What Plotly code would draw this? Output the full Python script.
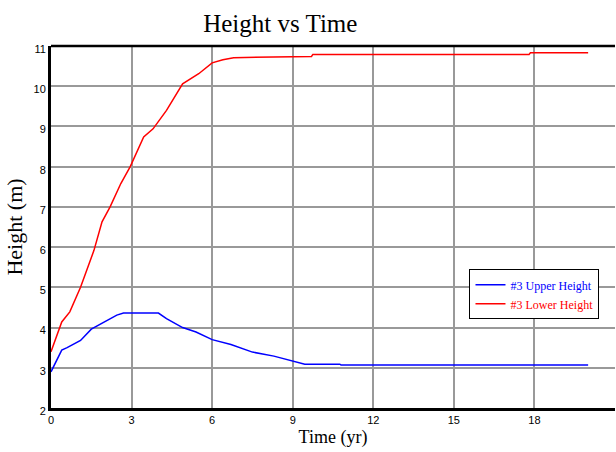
import plotly.graph_objects as go

# Time samples (years) and heights (m) for the two series
time_upper = [0, 0.4, 0.6, 0.85, 1.1, 1.5, 2.0, 2.45, 2.7, 4.0, 4.3, 4.9, 5.4, 6.0,
              6.7, 7.5, 8.3, 9.0, 9.45, 10.75, 10.8, 20]
height_upper = [2.9, 3.44, 3.5, 3.58, 3.68, 3.96, 4.14, 4.31, 4.36, 4.36, 4.22, 4.0,
                3.89, 3.70, 3.58, 3.39, 3.29, 3.16, 3.09, 3.09, 3.07, 3.07]

time_lower = [0, 0.4, 0.7, 1.1, 1.6, 1.9, 2.2, 2.6, 2.95, 3.45, 3.8, 4.3, 4.9, 5.5,
              6.0, 6.4, 6.8, 8.3, 9.0, 9.7, 9.75, 17.8, 17.85, 20]
height_lower = [3.4, 4.14, 4.39, 5.0, 5.92, 6.63, 7.0, 7.58, 8.0, 8.74, 8.94, 9.4,
                10.06, 10.31, 10.58, 10.66, 10.71, 10.72, 10.74, 10.74, 10.79, 10.79,
                10.83, 10.83]

x_ticks = [0, 3, 6, 9, 12, 15, 18, 21]
y_ticks = [2, 3, 4, 5, 6, 7, 8, 9, 10, 11]

SERIF = "Liberation Serif, Times New Roman, serif"
SANS = "Liberation Sans, Arial, sans-serif"

fig = go.Figure()
fig.add_trace(go.Scatter(
    x=time_upper, y=height_upper, mode="lines",
    line=dict(color="#0000ff", width=1.5),
    name="<span style='color:#0000ff'>#3 Upper Height</span>",
))
fig.add_trace(go.Scatter(
    x=time_lower, y=height_lower, mode="lines",
    line=dict(color="#ff0000", width=1.5),
    name="<span style='color:#ff0000'>#3 Lower Height</span>",
))

fig.update_layout(
    width=616, height=452,
    margin=dict(l=51, r=1, t=46, b=44),
    paper_bgcolor="white", plot_bgcolor="white",
    title=dict(text="Height vs Time", x=0.455, xanchor="center",
               y=0.948, yanchor="middle", yref="container",
               font=dict(family=SERIF, size=25, color="black")),
    legend=dict(x=0.742, y=0.383, xanchor="left", yanchor="top",
                bgcolor="white", bordercolor="black", borderwidth=1,
                font=dict(family=SERIF, size=12), tracegroupgap=0,
                itemwidth=30),
    showlegend=True,
)

fig.update_xaxes(
    range=[0, 21], tickvals=x_ticks, ticktext=[str(v) for v in x_ticks],
    showgrid=True, gridcolor="#999999", gridwidth=1.5,
    showline=True, linecolor="black", linewidth=3, zeroline=False,
    ticks="", tickfont=dict(family=SANS, size=11, color="black"),
    title=dict(text="Time (yr)", font=dict(family=SERIF, size=18, color="black"),
               standoff=6),
)
fig.update_yaxes(
    range=[2, 11], tickvals=y_ticks, ticktext=[str(v) for v in y_ticks],
    showgrid=True, gridcolor="#999999", gridwidth=1.5,
    showline=True, linecolor="black", linewidth=3, zeroline=False,
    ticks="", tickfont=dict(family=SANS, size=11, color="black"),
    ticklabelshift=3, ticklabelstandoff=0,
    title=dict(text="Height (m)", font=dict(family=SERIF, size=22, color="black"),
               standoff=5),
)

# frame line along the top of the plot area
fig.add_shape(type="line", xref="paper", yref="paper", x0=0, x1=1, y0=1, y1=1,
              line=dict(color="black", width=2.5), layer="above")

fig.write_html("out.html")
